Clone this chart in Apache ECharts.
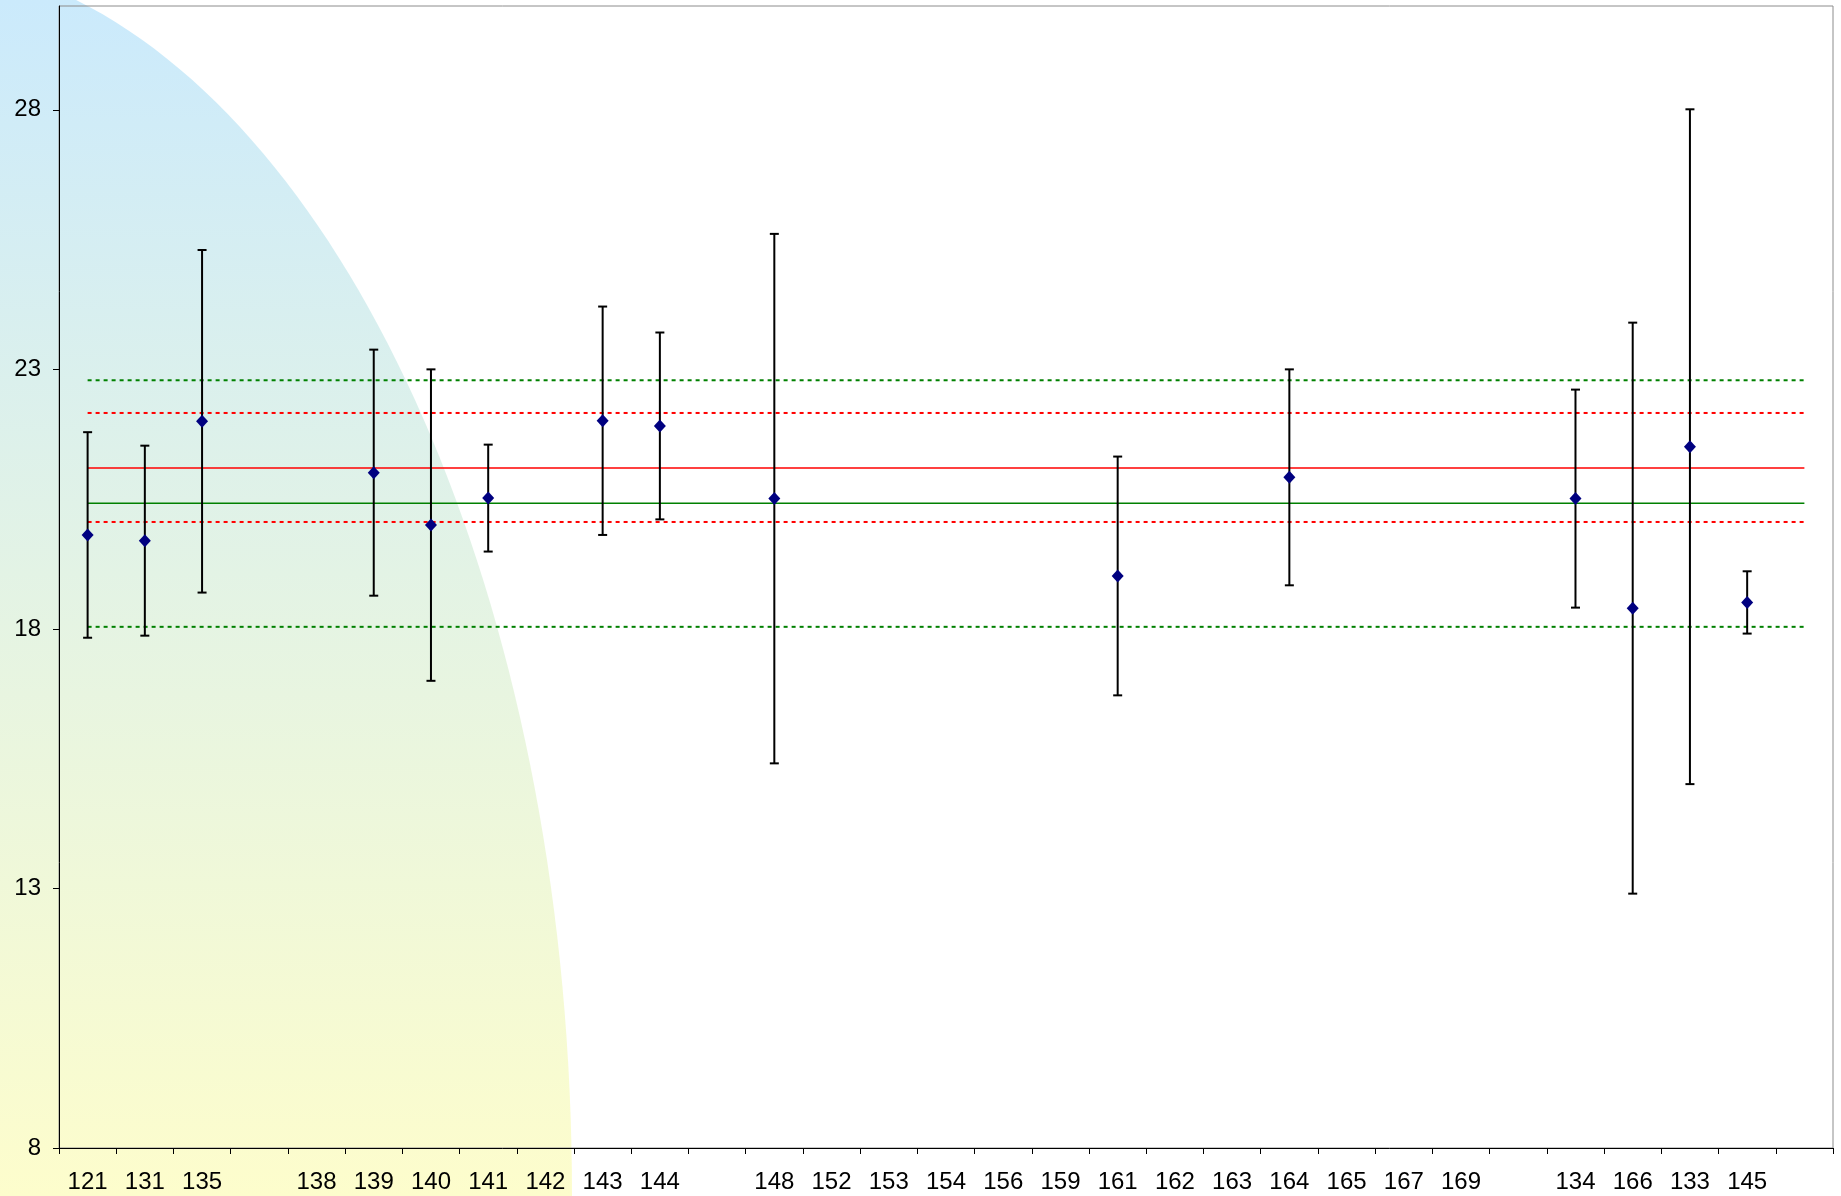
<!DOCTYPE html>
<html>
<head>
<meta charset="utf-8">
<script src="https://cdn.jsdelivr.net/npm/echarts@6.0.0/dist/echarts.min.js"></script>
<style>
  html, body { margin: 0; padding: 0; background: #fff; }
  #container { width: 1841px; height: 1196px; }
</style>
</head>
<body>
<div id="container"></div>
<script>
// categories along the x axis (blank slots keep their place)
var categories = ['121','131','135',' ','138','139','140','141','142','143','144','  ',
  '148','152','153','154','156','159','161','162','163','164','165','167','169','   ',
  '134','166','133','145','    '];
// mean per category, null where nothing was plotted
var means = [19.81, 19.70, 22.00, null, null, 21.01, 20.00, 20.52, null, 22.01, 21.91, null,
  20.51, null, null, null, null, null, 19.02, null, null, 20.92, null, null, null, null,
  20.51, 18.40, 21.51, 18.51, null];
// half width of each error bar
var errs = [1.98, 1.83, 3.30, null, null, 2.37, 3.00, 1.03, null, 2.20, 1.80, null,
  5.10, null, null, null, null, null, 2.30, null, null, 2.08, null, null, null, null,
  2.10, 5.50, 6.50, 0.60, null];
// reference levels
var redMean = 21.10, redLow = 20.06, redHigh = 22.16;
var greenMean = 20.42, greenLow = 18.04, greenHigh = 22.79;
var yTicks = [8, 13, 18, 23, 28];

var points = [], bars = [];
for (var i = 0; i < means.length; i++) {
  if (means[i] == null) continue;
  points.push([i, means[i]]);
  bars.push([i, means[i] - errs[i], means[i] + errs[i]]);
}

var last = categories.length - 1;
function hline(v, color, dotted) {
  return {
    type: 'line',
    data: [[0, v], [last, v]],
    symbol: 'none',
    silent: true,
    z: 1,
    lineStyle: { color: color, width: dotted ? 2 : 1.5, type: dotted ? [4, 4] : 'solid' }
  };
}

var font = '"Liberation Sans Narrow", "Arial Narrow", "Liberation Sans", Arial, sans-serif';

var chart = echarts.init(document.getElementById('container'));
var option = {
  backgroundColor: '#ffffff',
  animation: false,
  graphic: [{
    type: 'ellipse',
    silent: true,
    z: -10,
    shape: { cx: -100, cy: 1196, rx: 672, ry: 1239 },
    style: {
      fill: {
        type: 'linear', x: 0, y: 0, x2: 0, y2: 1196, global: true,
        colorStops: [{ offset: 0, color: '#cbeafc' }, { offset: 1, color: '#fdfdcc' }]
      }
    }
  }],
  grid: {
    left: 59, right: 8, top: 6, bottom: 48,
    containLabel: false,
    outerBoundsMode: 'none',
    show: true,
    backgroundColor: 'transparent',
    borderColor: '#8c8c8c',
    borderWidth: 1
  },
  xAxis: {
    type: 'category',
    data: categories,
    boundaryGap: true,
    axisLine: { lineStyle: { color: '#000', width: 1 } },
    axisTick: { show: true, length: 6, inside: false, lineStyle: { color: '#000' } },
    axisLabel: { interval: 0, color: '#000', fontSize: 24, fontFamily: font, margin: 22 },
    splitLine: { show: false }
  },
  yAxis: {
    type: 'value',
    min: 8, max: 30, interval: 5,
    axisLine: { show: true, lineStyle: { color: '#000', width: 1 } },
    axisTick: { show: true, length: 6, lineStyle: { color: '#000' }, customValues: yTicks },
    axisLabel: { color: '#000', fontSize: 24, fontFamily: font, margin: 18, showMaxLabel: false },
    splitLine: { show: false }
  },
  series: [
    hline(greenHigh, '#008000', true),
    hline(greenLow, '#008000', true),
    hline(redHigh, '#ff0000', true),
    hline(redLow, '#ff0000', true),
    hline(greenMean, '#008000', false),
    hline(redMean, '#ff0000', false),
    {
      type: 'custom',
      data: bars,
      z: 3,
      silent: true,
      encode: { x: 0, y: [1, 2] },
      renderItem: function (params, api) {
        var x = api.value(0);
        var lo = api.coord([x, api.value(1)]);
        var hi = api.coord([x, api.value(2)]);
        var cap = 4.5;
        var st = { stroke: '#000', lineWidth: 2 };
        return {
          type: 'group',
          children: [
            { type: 'line', shape: { x1: hi[0], y1: hi[1], x2: lo[0], y2: lo[1] }, style: st },
            { type: 'line', shape: { x1: hi[0] - cap, y1: hi[1], x2: hi[0] + cap, y2: hi[1] }, style: st },
            { type: 'line', shape: { x1: lo[0] - cap, y1: lo[1], x2: lo[0] + cap, y2: lo[1] }, style: st }
          ]
        };
      }
    },
    {
      type: 'scatter',
      data: points,
      symbol: 'diamond',
      symbolSize: [12, 13],
      z: 5,
      itemStyle: { color: '#000080', opacity: 1 }
    }
  ]
};
chart.setOption(option);
window.addEventListener('resize', function () { chart.resize(); });
</script>
</body>
</html>
